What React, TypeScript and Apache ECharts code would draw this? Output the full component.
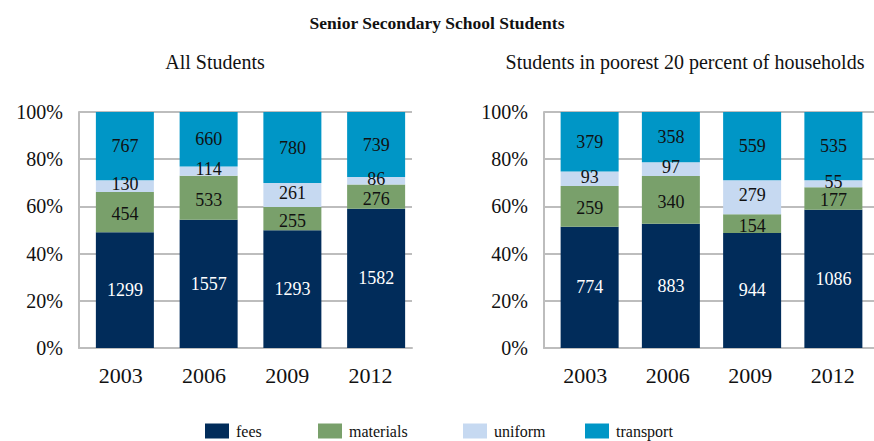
import React, { useEffect, useRef } from "react";
import * as echarts from "echarts";

const years = ["2003", "2006", "2009", "2012"];
const seriesNames = ["fees", "materials", "uniform", "transport"];
const colors = ["#012C5A", "#79A06B", "#C6D9F1", "#0096C6"];
const labelColors = ["#FFFFFF", "#111111", "#111111", "#111111"];
const labelOffsets = [[0, 0], [0, 2], [0, -2], [0, 0]];

const allFees = [1299, 1557, 1293, 1582];
const allMaterials = [454, 533, 255, 276];
const allUniform = [130, 114, 261, 86];
const allTransport = [767, 660, 780, 739];

const poorFees = [774, 883, 944, 1086];
const poorMaterials = [259, 340, 154, 177];
const poorUniform = [93, 97, 279, 55];
const poorTransport = [379, 358, 559, 535];

const yTicks = [0, 20, 40, 60, 80, 100];

const FONT = "Liberation Serif";
const GRID_COLOR = "#BDBDBD";

function buildSeries(groups: number[][], axisIdx: number) {
  const totals = years.map((_, i) => groups.reduce((s, g) => s + g[i], 0));
  return groups.map((g, k) => ({
    name: seriesNames[k],
    type: "bar",
    stack: "s" + axisIdx,
    xAxisIndex: axisIdx,
    yAxisIndex: axisIdx,
    barWidth: 58,
    itemStyle: { color: colors[k] },
    label: {
      show: true,
      position: "inside",
      offset: labelOffsets[k],
      color: labelColors[k],
      fontFamily: FONT,
      fontSize: 18,
      lineHeight: 16,
      formatter: (p: any) => String(p.data.raw),
    },
    data: g.map((v, i) => ({ value: (v / totals[i]) * 100, raw: v })),
  }));
}

export default function App() {
  const ref = useRef<HTMLDivElement>(null);
  useEffect(() => {
    if (!ref.current) return;
    const chart = echarts.init(ref.current, undefined, { renderer: "svg" });
    // grids 0,2: frame with gridlines and labels; grids 1,3: bars
    const grids = [
      { left: 79, top: 112, width: 333, bottom: 93 },
      { left: 83, top: 112, width: 335, bottom: 93 },
      { left: 544, top: 112, width: 334, bottom: 93 },
      { left: 549, top: 112, width: 335, bottom: 93 },
    ];
    const xAxes = grids.map((_, i) => {
      const frame = i % 2 === 0;
      return {
        type: "category",
        gridIndex: i,
        data: years,
        axisTick: { show: false },
        axisLine: { show: frame, lineStyle: { color: GRID_COLOR, width: 2 } },
        axisLabel: {
          show: frame,
          fontFamily: FONT,
          fontSize: 22,
          color: "#111",
          margin: 16,
        },
      };
    });
    const yAxes = grids.map((_, i) => {
      const frame = i % 2 === 0;
      return {
        type: "value",
        gridIndex: i,
        min: 0,
        max: 100,
        interval: 20,
        show: frame,
        axisLine: { show: frame, lineStyle: { color: GRID_COLOR, width: 2 } },
        axisTick: { show: false },
        splitLine: { show: frame, lineStyle: { color: GRID_COLOR, width: 2 } },
        axisLabel: {
          show: frame,
          fontFamily: FONT,
          fontSize: 20,
          color: "#111",
          margin: 16,
          formatter: (v: number) => (yTicks.includes(v) ? v + "%" : ""),
        },
      };
    });
    const legendLefts = [205, 318, 463, 585];
    chart.setOption({
      animation: false,
      title: [
        {
          text: "Senior Secondary School Students",
          left: "center",
          top: 9,
          textStyle: { fontFamily: FONT, fontSize: 17.5, fontWeight: "bold", color: "#111" },
        },
        {
          text: "All Students",
          left: 210,
          textAlign: "center",
          top: 47,
          textStyle: { fontFamily: FONT, fontSize: 20, fontWeight: "normal", color: "#111" },
        },
        {
          text: "Students in poorest 20 percent of households",
          left: 680,
          textAlign: "center",
          top: 47,
          textStyle: { fontFamily: FONT, fontSize: 20, fontWeight: "normal", color: "#111" },
        },
      ],
      legend: seriesNames.map((n, i) => ({
        data: [n],
        left: legendLefts[i],
        top: 423,
        itemWidth: 24,
        itemHeight: 15,
        itemGap: 0,
        icon: "rect",
        textStyle: { fontFamily: FONT, fontSize: 16, color: "#111", padding: [0, 0, 0, 2] },
        padding: 0,
      })),
      grid: grids,
      xAxis: xAxes,
      yAxis: yAxes,
      series: [
        ...buildSeries([allFees, allMaterials, allUniform, allTransport], 1),
        ...buildSeries([poorFees, poorMaterials, poorUniform, poorTransport], 3),
      ],
    });
    return () => chart.dispose();
  }, []);
  return <div ref={ref} style={{ width: 874, height: 441, position: "absolute", left: 0, top: 0 }} />;
}
